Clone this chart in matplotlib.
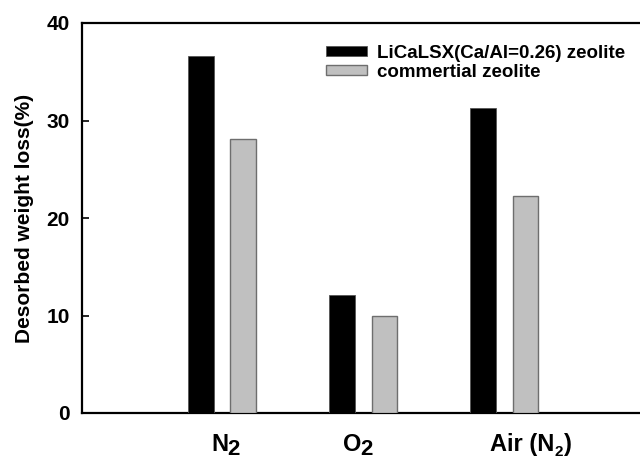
import matplotlib
matplotlib.use("Agg")
import matplotlib.pyplot as plt
import numpy as np

plt.rcParams['font.family'] = ['Liberation Sans', 'DejaVu Sans']
plt.rcParams['font.weight'] = 'bold'

# category label: (main text, subscript, closing text)
cat_main = ['N', 'O', 'Air (N']
cat_sub = ['2', '2', '2']
cat_tail = ['', '', ')']
series_names = ['LiCaLSX(Ca/Al=0.26) zeolite', 'commertial zeolite']
licalsx = [36.6, 12.1, 31.3]
commercial = [28.1, 10.0, 22.3]
ylabel = 'Desorbed weight loss(%)'
yticks = [0, 10, 20, 30, 40]

fig = plt.figure(figsize=(6.4, 4.59), dpi=100)
ax = fig.add_axes([82/640, (459-413)/459, 1 - 82/640, 390/459])

x = np.arange(len(cat_main))
w = 0.18
off = 0.149
ax.bar(x - off, licalsx, w, color='black', edgecolor='#555555', linewidth=0.6,
       label=series_names[0], zorder=3)
ax.bar(x + off, commercial, w, color='#c0c0c0', edgecolor='#6e6e6e', linewidth=1.0,
       label=series_names[1], zorder=3)

ax.set_xlim(-0.994, 2.963)
ax.set_ylim(0, 40)
ax.set_yticks(yticks)
ax.set_yticklabels([str(v) for v in yticks], fontsize=15, fontweight='bold')
ax.tick_params(axis='y', direction='in', length=5, width=1.2, pad=9)
ax.set_xticks([])
for s in ['left', 'bottom', 'top']:
    ax.spines[s].set_linewidth(1.6)
ax.spines['right'].set_visible(False)

ax.set_ylabel(ylabel, fontsize=15, fontweight='bold', labelpad=9)

leg = ax.legend(loc='upper left', bbox_to_anchor=(0.437, 0.944), frameon=False,
                fontsize=13.5, handlelength=2.2, handleheight=0.45, handletextpad=0.55,
                labelspacing=0.1, borderpad=0, borderaxespad=0)
for t in leg.get_texts():
    t.set_fontweight('bold')

# category labels below axis, built from pieces (large subscript on first two)
label_left = [211, 343, 490]   # pixel left edges of labels
sub_size = [16, 16, 11]
sub_drop = [4, 4, 5]
sub_gap = [-0.5, -1.5, 0.5]
fig.canvas.draw()
r = fig.canvas.get_renderer()
base_y = 451  # baseline pixel from top
for i in range(len(cat_main)):
    xp = label_left[i]
    t1 = fig.text(xp / 640, 1 - base_y / 459, cat_main[i], fontsize=17, fontweight='bold',
                  ha='left', va='baseline')
    bb = t1.get_window_extent(r)
    xp2 = bb.x1 + sub_gap[i]
    t2 = fig.text(xp2 / 640, 1 - (base_y + sub_drop[i]) / 459, cat_sub[i],
                  fontsize=sub_size[i], fontweight='bold', ha='left', va='baseline')
    bb2 = t2.get_window_extent(r)
    if cat_tail[i]:
        fig.text((bb2.x1 + 0.5) / 640, 1 - base_y / 459, cat_tail[i], fontsize=17,
                 fontweight='bold', ha='left', va='baseline')

fig.savefig('out.png', dpi=100)
